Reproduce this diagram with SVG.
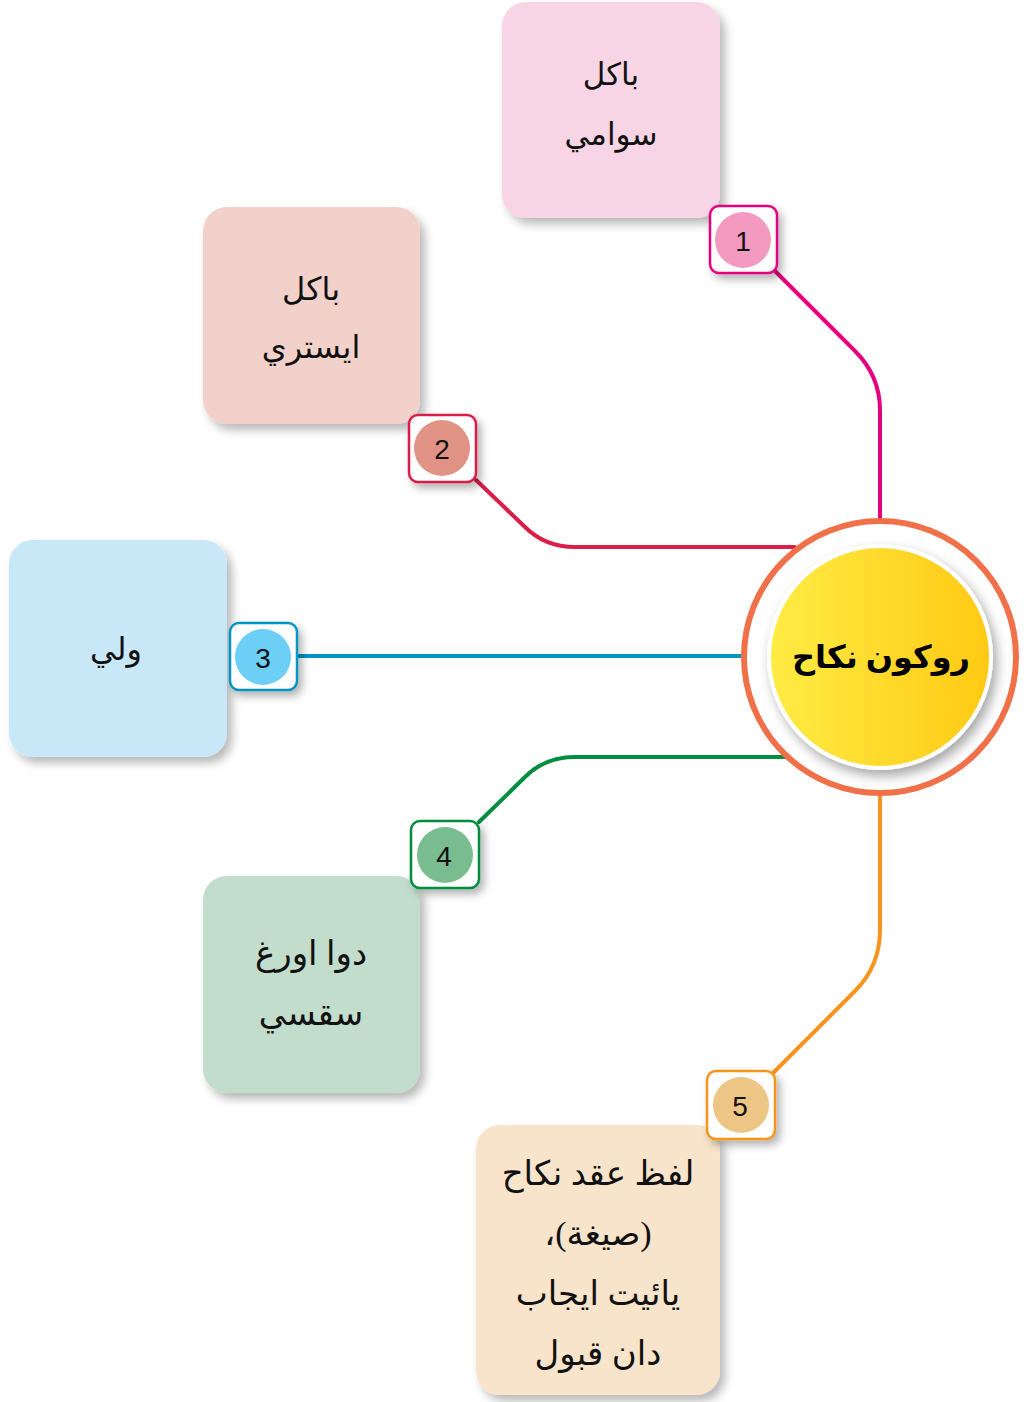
<svg xmlns="http://www.w3.org/2000/svg" width="1029" height="1402" viewBox="0 0 1029 1402">
<defs>
<filter id="sh" x="-20%" y="-20%" width="150%" height="150%"><feDropShadow dx="5" dy="6" stdDeviation="5" flood-color="#000" flood-opacity="0.28"/></filter>
<filter id="shb" x="-30%" y="-30%" width="170%" height="170%"><feDropShadow dx="4" dy="5" stdDeviation="4" flood-color="#000" flood-opacity="0.3"/></filter>
<filter id="shc" x="-20%" y="-20%" width="150%" height="150%"><feDropShadow dx="4" dy="6" stdDeviation="6" flood-color="#000" flood-opacity="0.35"/></filter>
<linearGradient id="yg" x1="0" y1="0" x2="1" y2="0"><stop offset="0" stop-color="#FFEC45"/><stop offset="1" stop-color="#FFC914"/></linearGradient>
</defs>
<style>
.t{font-family:"Liberation Serif","DejaVu Sans",serif;font-size:34px;fill:#111;text-anchor:middle}
.n{font-family:"Liberation Sans",Arial,sans-serif;font-size:28px;fill:#111;text-anchor:middle}
.c{fill:none;stroke-width:4;stroke-linecap:round}
.bx{filter:url(#sh)}
.bd{fill:#fff;stroke-width:2.5}
</style>
<g id="connectors">
<path class="c" stroke="#E4007F" d="M775 271 L855 351 Q880 376 880 410 L880 520"/>
<path class="c" stroke="#D91E48" d="M476 480 L525 527 Q545 547 575 547 L795 547"/>
<path class="c" stroke="#0095C4" d="M297 656 L744 656"/>
<path class="c" stroke="#008D3F" d="M479 822 L525 777 Q545 757 575 757 L790 757"/>
<path class="c" stroke="#F7941D" d="M773 1073 L855 991 Q880 966 880 930 L880 795"/>
</g>
<g id="center">
<circle cx="880" cy="657" r="136" fill="#fff" stroke="#F0704A" stroke-width="6"/>
<circle cx="880" cy="657" r="111" fill="url(#yg)" stroke="#fff" stroke-width="4" filter="url(#shc)"/>
<text x="881" y="668" direction="rtl" style="font-family:'Liberation Serif','DejaVu Sans',serif;font-size:32px;font-weight:bold;text-anchor:middle;fill:#000">روكون نكاح</text>
</g>
<g id="node1">
<rect class="bx" x="502" y="2" width="218" height="216" rx="24" fill="#F8D5E5"/>
<text class="t" x="611" y="85" direction="rtl" style="font-size:31px">باكل</text>
<text class="t" x="611" y="145" direction="rtl" style="font-size:31px">سوامي</text>
<rect class="bd" x="710" y="206" width="67" height="67" rx="9" stroke="#E4007F" filter="url(#shb)"/>
<circle cx="743" cy="240" r="28" fill="#F49AC1"/>
<text class="n" x="743" y="251">1</text>
</g>
<g id="node2">
<rect class="bx" x="203" y="207" width="217" height="217" rx="24" fill="#F3D1CB"/>
<text class="t" x="311" y="300" direction="rtl" style="font-size:32px">باكل</text>
<text class="t" x="311" y="358" direction="rtl" style="font-size:32px">ايستري</text>
<rect class="bd" x="409" y="415" width="67" height="67" rx="9" stroke="#D91E48" filter="url(#shb)"/>
<circle cx="442" cy="448" r="28" fill="#E09384"/>
<text class="n" x="442" y="459">2</text>
</g>
<g id="node3">
<rect class="bx" x="9" y="540" width="218" height="217" rx="24" fill="#C8E8F8"/>
<text class="t" x="116" y="660" direction="rtl" style="font-size:32px">ولي</text>
<rect class="bd" x="230" y="623" width="67" height="67" rx="9" stroke="#0095C4" filter="url(#shb)"/>
<circle cx="263" cy="657" r="28" fill="#6DCFF6"/>
<text class="n" x="263" y="668">3</text>
</g>
<g id="node4">
<rect class="bx" x="203" y="876" width="217" height="217" rx="24" fill="#C2DDCB"/>
<text class="t" x="311" y="965" direction="rtl">دوا اورغ</text>
<text class="t" x="311" y="1025" direction="rtl">سقسي</text>
<rect class="bd" x="411" y="821" width="68" height="67" rx="9" stroke="#008D3F" filter="url(#shb)"/>
<circle cx="445" cy="855" r="28" fill="#78BC8F"/>
<text class="n" x="444" y="866">4</text>
</g>
<g id="node5">
<rect class="bx" x="476" y="1125" width="244" height="270" rx="24" fill="#F7E4CA"/>
<text class="t" x="598" y="1185" direction="rtl">لفظ عقد نكاح</text>
<text class="t" x="598" y="1245" direction="rtl">(صيغة)،</text>
<text class="t" x="598" y="1305" direction="rtl">يائيت ايجاب</text>
<text class="t" x="598" y="1365" direction="rtl">دان قبول</text>
<rect class="bd" x="707" y="1071" width="68" height="68" rx="9" stroke="#F7941D" filter="url(#shb)"/>
<circle cx="741" cy="1105" r="28" fill="#EDC584"/>
<text class="n" x="740" y="1116">5</text>
</g>
</svg>
